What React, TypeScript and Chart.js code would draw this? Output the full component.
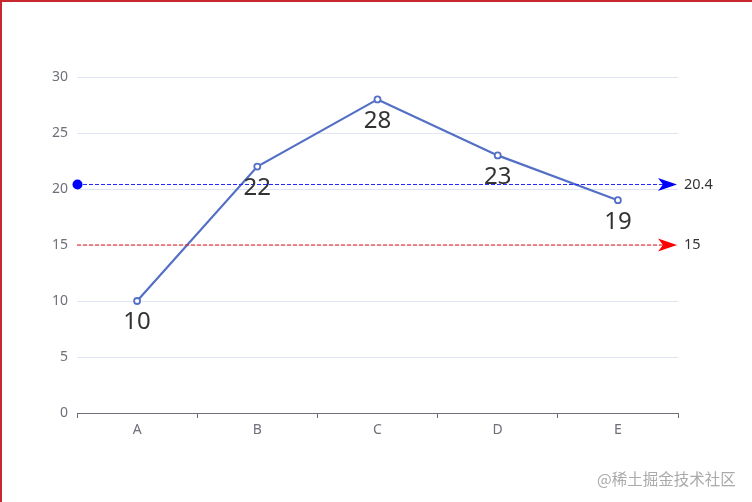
import React, { useEffect, useRef } from "react";
import { Chart, registerables } from "chart.js";

Chart.register(...registerables);

const categories = ["A", "B", "C", "D", "E"];
const values = [10, 22, 28, 23, 19];
const yTicks = [0, 5, 10, 15, 20, 25, 30];
const averageValue = 20.4;
const averageLabel = "20.4";
const fixedLineValue = 15;
const fixedLineLabel = "15";
const watermark = "@稀土掘金技术社区";

const FONT = "'Microsoft YaHei', 'Noto Sans', 'Noto Sans CJK SC', sans-serif";

function drawArrow(ctx: CanvasRenderingContext2D, tipX: number, y: number, color: string) {
  ctx.save();
  ctx.fillStyle = color;
  ctx.beginPath();
  ctx.moveTo(tipX, y);
  ctx.lineTo(tipX - 19, y - 6.5);
  ctx.lineTo(tipX - 14, y);
  ctx.lineTo(tipX - 19, y + 6.5);
  ctx.closePath();
  ctx.fill();
  ctx.restore();
}

const overlayPlugin = {
  id: "overlay",
  afterDatasetsDraw(chart: any) {
    const ctx: CanvasRenderingContext2D = chart.ctx;
    const { left, right } = chart.chartArea;
    const yScale = chart.scales.y;
    const lines = [
      { v: averageValue, label: averageLabel, color: "#0000ff", dash: "rgb(40,40,255)", circle: true },
      { v: fixedLineValue, label: fixedLineLabel, color: "#ff0000", dash: "rgb(230,20,20)", circle: false },
    ];
    for (const l of lines) {
      const y = yScale.getPixelForValue(l.v);
      ctx.save();
      ctx.strokeStyle = l.dash;
      ctx.lineWidth = 1.2;
      ctx.setLineDash([4, 2]);
      ctx.beginPath();
      ctx.moveTo(left, y);
      ctx.lineTo(right - 10, y);
      ctx.stroke();
      ctx.restore();
      if (l.circle) {
        ctx.save();
        ctx.fillStyle = l.color;
        ctx.beginPath();
        ctx.arc(left + 0.5, y, 5, 0, Math.PI * 2);
        ctx.fill();
        ctx.restore();
      }
      drawArrow(ctx, right - 1, y, l.color);
      ctx.save();
      ctx.fillStyle = "#333";
      ctx.font = `14.5px ${FONT}`;
      ctx.textAlign = "left";
      ctx.textBaseline = "middle";
      ctx.fillText(l.label, right + 6, y);
      ctx.restore();
    }
    // data labels
    const meta = chart.getDatasetMeta(0);
    ctx.save();
    ctx.fillStyle = "#333";
    ctx.font = `24px ${FONT}`;
    ctx.textAlign = "center";
    ctx.textBaseline = "middle";
    meta.data.forEach((pt: any, i: number) => {
      ctx.fillText(String(values[i]), pt.x, pt.y + 21.5);
    });
    ctx.restore();
  },
};

export default function App() {
  const ref = useRef<HTMLCanvasElement>(null);
  useEffect(() => {
    if (!ref.current) return;
    const chart = new Chart(ref.current, {
      type: "line",
      data: {
        labels: categories,
        datasets: [
          {
            data: values,
            borderColor: "#5470c6",
            borderWidth: 2.2,
            pointRadius: 3,
            pointBorderWidth: 1.8,
            pointBackgroundColor: "#fff",
            pointBorderColor: "#5470c6",
            tension: 0,
          },
        ],
      },
      options: {
        animation: false,
        responsive: false,
        devicePixelRatio: 1,
        layout: { padding: { left: 0, right: 74, top: 77, bottom: 0 } },
        plugins: { legend: { display: false }, tooltip: { enabled: false } },
        scales: {
          x: {
            type: "category",
            offset: true,
            grid: {
              offset: true,
              drawOnChartArea: false,
              drawTicks: true,
              tickLength: 5,
              color: "#6e7079",
            },
            border: { display: true, color: "#6e7079", width: 1 },
            ticks: { color: "#6e7079", font: { size: 14, family: FONT }, padding: 4 },
            afterFit: (s: any) => {
              s.height = 89;
            },
          },
          y: {
            min: 0,
            max: 30,
            afterBuildTicks: (s: any) => {
              s.ticks = yTicks.map((v) => ({ value: v }));
            },
            grid: { color: "#e0e6f1", drawTicks: false },
            border: { display: false },
            ticks: { color: "#6e7079", font: { size: 14, family: FONT }, padding: 9 },
            afterFit: (s: any) => {
              s.width = 77;
            },
          },
        },
      },
      plugins: [overlayPlugin],
    });
    return () => chart.destroy();
  }, []);
  return (
    <div style={{ position: "fixed", left: 0, top: 0, width: 752, height: 502, overflow: "hidden", background: "#fff" }}>
      <div style={{ position: "absolute", left: 0, top: 0, width: 800, height: 600, borderLeft: "2px solid #c8282d", borderTop: "2px solid #c8282d" }} />
      <canvas ref={ref} width={752} height={502} style={{ position: "absolute", left: 0, top: 0 }} />
      <div
        style={{
          position: "absolute",
          left: 597,
          top: 467,
          fontSize: 15.5,
          color: "#aaa",
          fontFamily: "'Noto Sans CJK SC', sans-serif",
          whiteSpace: "nowrap",
          lineHeight: "22px",
        }}
      >
        {watermark}
      </div>
    </div>
  );
}
